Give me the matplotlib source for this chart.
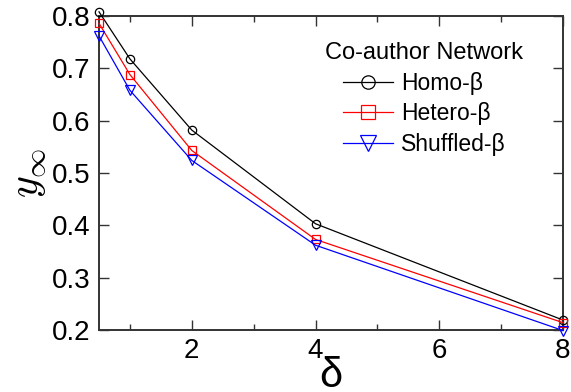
import matplotlib
matplotlib.use("Agg")
import matplotlib.pyplot as plt
from matplotlib.ticker import MultipleLocator

plt.rcParams['font.family'] = ['Liberation Sans', 'DejaVu Sans']
plt.rcParams['mathtext.fontset'] = 'cm'

delta = [0.5, 1, 2, 4, 8]
homo = [0.808, 0.718, 0.582, 0.403, 0.219]
hetero = [0.786, 0.688, 0.543, 0.373, 0.214]
shuffled = [0.762, 0.658, 0.524, 0.362, 0.199]
series_names = ["Homo-β", "Hetero-β", "Shuffled-β"]
legend_title = "Co-author Network"

fig = plt.figure(figsize=(5.71, 3.92), dpi=100)
ax = fig.add_axes([99/571, 1 - 330/392, (563-99)/571, (330-16)/392])

styles = [("black", "o", 6.0), ("red", "s", 6.0), ("blue", "v", 7.0)]
for vals, name, (c, m, ms) in zip([homo, hetero, shuffled], series_names, styles):
    ax.plot(delta, vals, color=c, marker=m, markersize=ms, markerfacecolor="none",
            markeredgecolor=c, markeredgewidth=0.9, linewidth=0.9, label=name,
            clip_on=False, zorder=3)

ax.set_xlim(0.5, 8)
ax.set_ylim(0.2, 0.8)
ax.xaxis.set_major_locator(MultipleLocator(2))
ax.xaxis.set_minor_locator(MultipleLocator(1))
ax.yaxis.set_major_locator(MultipleLocator(0.1))
ax.yaxis.set_major_formatter(matplotlib.ticker.FormatStrFormatter('%.1f'))

ax.tick_params(which='both', direction='in', top=True, right=True,
               color='#333333', labelsize=20, pad=6)
ax.tick_params(which='major', length=7, width=1.0)
ax.tick_params(which='minor', length=4, width=1.0)
for s in ax.spines.values():
    s.set_color('#333333')
    s.set_linewidth(1.4)

ax.set_xlabel("δ", fontsize=30, labelpad=-6)
ax.set_ylabel(r"$y_{\infty}$", fontsize=30, labelpad=2)

leg = ax.legend(title=legend_title, loc='upper left', bbox_to_anchor=(0.453, 0.968),
                frameon=False, fontsize=16.5, title_fontsize=17,
                handlelength=2.2, handletextpad=0.35, labelspacing=0.33,
                borderpad=0.2, markerscale=1.6)

fig.savefig("out.png", dpi=100)
